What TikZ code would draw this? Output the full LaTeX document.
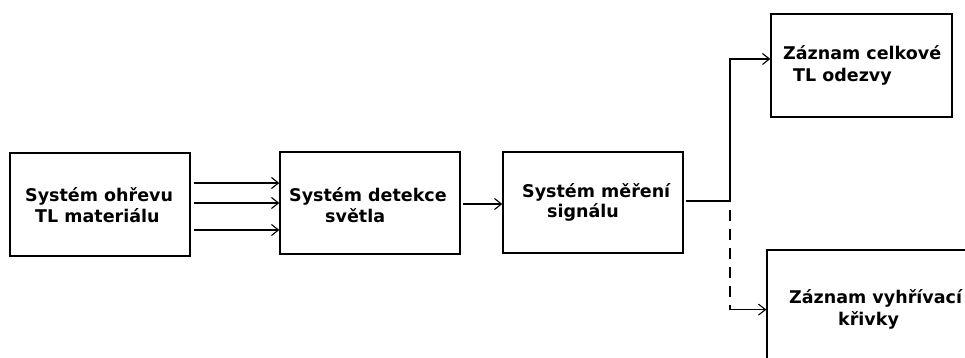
\documentclass[tikz,border=0pt]{standalone}
\usepackage{fontspec}
\setmainfont{DejaVu Sans}
\usetikzlibrary{arrows.meta}
\begin{document}
\begin{tikzpicture}[x=1pt,y=-1pt,
  box/.style={draw, line width=1.3pt, inner sep=0pt, minimum width=#1},
  lbl/.style={anchor=base west, inner sep=0pt, font=\fontsize{17.5}{21}\selectfont\bfseries},
  conn/.style={line width=1.2pt},
  arr/.style={line width=1.2pt, -{Straight Barb[length=7pt,width=11pt,line width=1.1pt]}}]
\useasboundingbox (0,0) rectangle (965,358);
\clip (0,0) rectangle (965,358);
% boxes
\node[box=180pt, minimum height=103pt] (b1) at (100,204.5) {};
\node[box=180pt, minimum height=102pt] (b2) at (370,203) {};
\node[box=180pt, minimum height=101pt] (b3) at (593,202.5) {};
\node[box=181pt, minimum height=103pt] (b4) at (861.5,65.5) {};
\node[box=233pt, minimum height=170pt] (b5) at (883.5,335) {};
% labels
\node[lbl] (t1a) at (25,201) {Systém ohřevu};
\node[lbl] (t1b) at (35,222) {TL materiálu};
\node[lbl] (t2a) at (289,201) {Systém detekce};
\node[lbl] (t2b) at (325,222) {světla};
\node[lbl] (t3a) at (522,197) {Systém měření};
\node[lbl] (t3b) at (547,217) {signálu};
\node[lbl] (t4a) at (783,60) {Záznam celkové};
\node[lbl] (t4b) at (793,82) {TL odezvy};
\node[lbl] (t5a) at (789,303) {Záznam vyhřívací};
\node[lbl] (t5b) at (838,325) {křivky};
% connectors
\coordinate (s1) at (194,183);
\coordinate (s2) at (194,203);
\coordinate (s3) at (194,230);
\draw[arr] (s1) -- (s1 -| b2.west);
\draw[arr] (s2) -- (s2 -| b2.west);
\draw[arr] (s3) -- (s3 -| b2.west);
\coordinate (s4) at (463,204);
\draw[arr] (s4) -- (s4 -| b3.west);
\coordinate (s5) at (686,201);
\coordinate (j) at (730,201);
\coordinate (t4) at (730,59);
\coordinate (jd) at (730,202);
\coordinate (t5) at (730,309.6);
\draw[conn] (s5) -- (j);
\draw[arr] (jd) -- (t4) -- (t4 -| b4.west);
\draw[conn, dash pattern=on 11pt off 8pt, dash phase=11pt] (jd) -- (t5);
\draw[arr] (t5) -- (t5 -| b5.west);
\end{tikzpicture}
\end{document}
